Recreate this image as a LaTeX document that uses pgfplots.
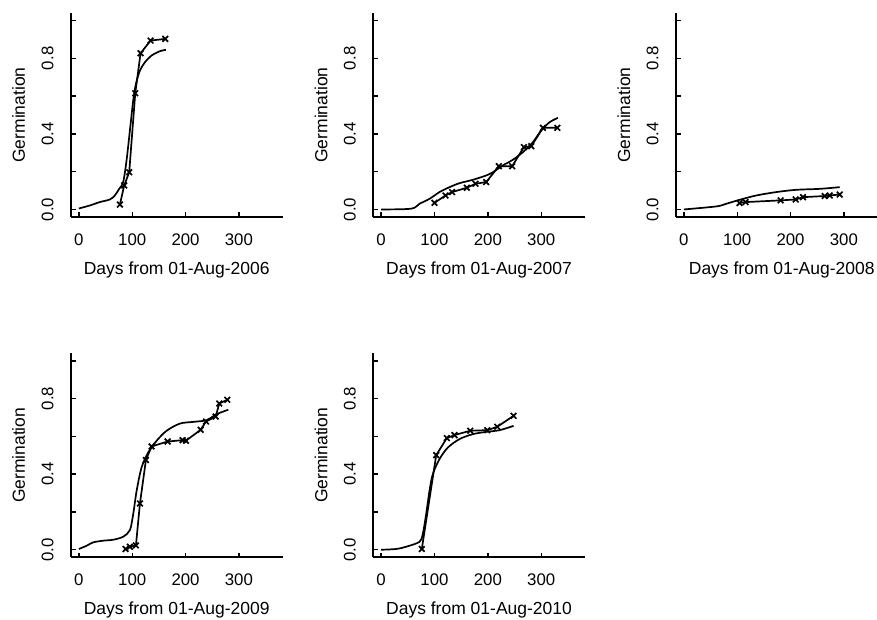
\documentclass[border=0pt]{standalone}
\usepackage{pgfplots}
\pgfplotsset{compat=1.18}
\usepackage{fontspec}
\setmainfont{Liberation Sans}

\pgfplotsset{
  rpanel/.style={
    scale only axis, width=211.5pt, height=204pt,
    xmin=-14.7, xmax=381.7, ymin=-0.04, ymax=1.04,
    axis x line=bottom, axis y line=left,
    axis line style={-, line width=1.7pt},
    tick align=inside, major tick length=4.5pt,
    tick style={line width=1.4pt, black},
    xtick={0,100,200,300}, xticklabels={0,100,200,300},
    ytick={0,0.2,0.4,0.6,0.8,1.0}, yticklabels={0.0,,0.4,,0.8,},
    ticklabel style={font=\fontsize{16.8}{19}\selectfont},
    xticklabel style={anchor=base}, xticklabel shift=28pt,
    yticklabel style={rotate=90, anchor=base}, yticklabel shift=17.7pt,
    label style={font=\fontsize{17.5}{20}\selectfont},
    ylabel={Germination},
    ylabel style={at={([xshift=-46pt]axis description cs:0,0.5)}, anchor=base, rotate=0},
    xlabel style={at={([yshift=-57pt]axis description cs:0.5,0)}, anchor=base},
    clip=false,
  },
  fitline/.style={black, no marks, line width=1.7pt, smooth},
  obsline/.style={black, mark=x, mark size=4pt, line width=1.7pt, mark options={line width=1.7pt}},
}

\begin{document}
\begin{tikzpicture}[x=1pt,y=1pt]
\path[use as bounding box] (0,0) rectangle (877,619);

% Panel 2006
\begin{axis}[rpanel, at={(71pt,402pt)}, anchor=south west, xlabel={Days from 01-Aug-2006}]
\addplot[fitline] coordinates {(0,0.005) (20.6,0.021) (39.4,0.039) (58.2,0.053) (67.5,0.074) (75.6,0.109) (83.1,0.145) (89.4,0.259) (95.7,0.418) (101.9,0.577) (107,0.665) (114.5,0.735) (123.8,0.779) (136.4,0.815) (152,0.838) (163.2,0.845)};
\addplot[obsline] coordinates {(77,0.026) (85,0.127) (94.4,0.197) (105.7,0.615) (115.7,0.827) (134.5,0.894) (162,0.903)};
\end{axis}

% Panel 2007
\begin{axis}[rpanel, at={(373.3pt,402pt)}, anchor=south west, xlabel={Days from 01-Aug-2007}]
\addplot[fitline] coordinates {(0,0) (56.3,0.004) (71.9,0.030) (90.6,0.056) (109.4,0.092) (128.1,0.118) (146.9,0.139) (171.9,0.157) (196.9,0.180) (209.4,0.197) (228.1,0.233) (246.9,0.263) (265.6,0.303) (284.4,0.356) (300,0.418) (315.8,0.462) (331.3,0.485)};
\addplot[obsline] coordinates {(100,0.035) (120.6,0.074) (133,0.092) (160.6,0.115) (176.9,0.136) (196.9,0.145) (220.6,0.229) (245.6,0.229) (267.5,0.33) (281.4,0.335) (303.2,0.432) (330.2,0.432)};
\end{axis}

% Panel 2008
\begin{axis}[rpanel, at={(676pt,402pt)}, anchor=south west, xlabel={Days from 01-Aug-2008}]
\addplot[fitline] coordinates {(0,0) (60.8,0.016) (79.5,0.030) (104.5,0.051) (135.8,0.074) (173.4,0.092) (210.9,0.104) (254.6,0.109) (292.1,0.118)};
\addplot[obsline] coordinates {(104.4,0.034) (115.7,0.039) (181.4,0.048) (209.6,0.053) (223.3,0.065) (264,0.071) (273.4,0.074) (292.1,0.079)};
\end{axis}

% Panel 2009
\begin{axis}[rpanel, at={(71pt,61.7pt)}, anchor=south west, xlabel={Days from 01-Aug-2009}]
\addplot[fitline] coordinates {(0,0.004) (14.4,0.021) (26.8,0.039) (45.6,0.048) (64.4,0.053) (83.1,0.069) (95.7,0.104) (101.9,0.189) (108.3,0.312) (117.6,0.436) (130,0.515) (145.8,0.577) (164.5,0.630) (189.5,0.668) (214.5,0.677) (239.5,0.686) (258.3,0.718) (280.1,0.741)};
\addplot[obsline] coordinates {(87.6,0.004) (95.7,0.016) (107,0.023) (114.5,0.245) (125.7,0.475) (136.4,0.547) (166.4,0.573) (194.5,0.58) (200.7,0.577) (228.3,0.635) (238.3,0.679) (256.4,0.705) (263.2,0.774) (278.2,0.794)};
\end{axis}

% Panel 2010
\begin{axis}[rpanel, at={(373.3pt,61.7pt)}, anchor=south west, xlabel={Days from 01-Aug-2010}]
\addplot[fitline] coordinates {(0,0) (28.1,0.004) (46.9,0.016) (71.9,0.042) (78,0.083) (84.4,0.189) (90.6,0.312) (96.8,0.4) (109.4,0.48) (125,0.541) (146.9,0.586) (171.9,0.612) (196.9,0.624) (221.9,0.633) (248.2,0.656)};
\addplot[obsline] coordinates {(76.2,0.004) (103.2,0.501) (123.1,0.591) (137.5,0.607) (167,0.630) (198.9,0.633) (217.6,0.651) (248.2,0.709)};
\end{axis}
\end{tikzpicture}
\end{document}
